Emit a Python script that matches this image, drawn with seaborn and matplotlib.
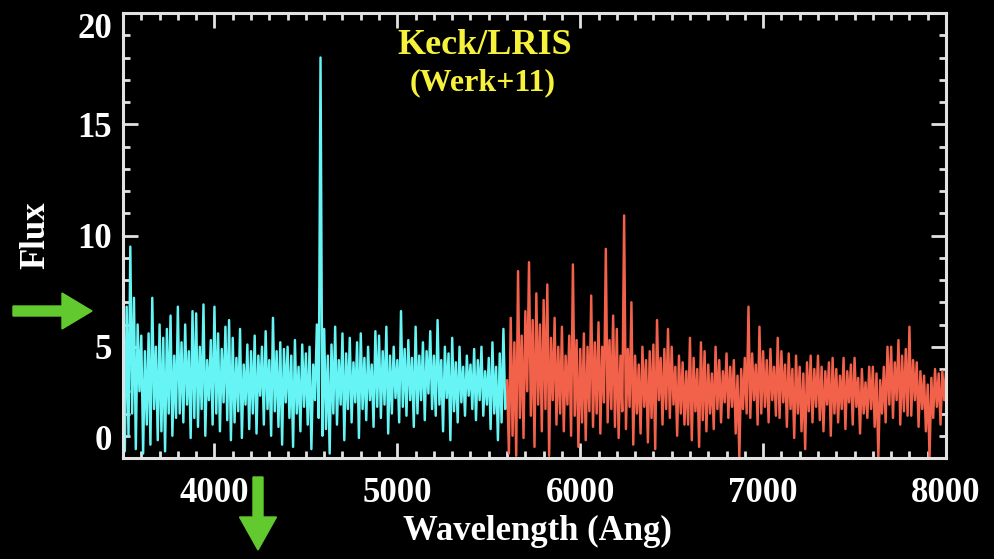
import numpy as np
import pandas as pd
import matplotlib
matplotlib.use("Agg")
import matplotlib.pyplot as plt
from matplotlib.patches import FancyArrow
from matplotlib.transforms import IdentityTransform
from matplotlib.ticker import MultipleLocator
import seaborn as sns

# ---------------- data ----------------
blue_start, blue_step = 3500, 10   # Angstrom
red_start, red_step = 5600, 10

blue_flux = [
    5.2, 0.3, 6.8, 1.0, 9.5, 2.0, 7.2, 0.4, 6.0, 3.0,
    5.5, 0.2, 4.8, 1.5, 5.6, 0.6, 7.2, 2.2, 5.0, 0.8,
    6.0, 1.2, 5.4, 0.3, 5.8, 2.0, 6.4, 1.0, 4.6, 1.8,
    6.8, 2.0, 5.2, 1.6, 6.0, 2.4, 4.8, 0.9, 6.6, 1.8,
    6.5, 1.4, 5.0, 2.2, 6.9, 1.0, 4.4, 2.6, 5.3, 1.5,
    6.8, 2.0, 5.6, 1.2, 4.9, 2.5, 5.9, 1.7, 6.2, 0.8,
    5.4, 1.6, 4.5, 2.1, 5.8, 0.9, 4.2, 2.4, 5.1, 1.3,
    4.8, 2.0, 5.5, 1.1, 4.6, 2.8, 5.0, 1.5, 5.7, 2.2,
    4.4, 1.0, 6.3, 2.1, 4.8, 1.4, 5.2, 0.6, 4.9, 2.5,
    5.0, 1.8, 4.6, 0.5, 5.3, 2.0, 4.1, 1.2, 5.1, 2.3,
    4.7, 1.5, 5.0, 0.4, 4.2, 2.6, 6.0, 1.8, 18.0, 1.0,
    5.8, 1.3, 4.6, 0.2, 5.1, 2.0, 5.9, 1.5, 4.4, 2.4,
    5.6, 0.8, 4.7, 2.2, 5.4, 1.6, 4.3, 2.5, 5.2, 0.9,
    5.6, 2.2, 4.5, 1.7, 5.0, 2.6, 4.2, 1.4, 5.7, 2.3,
    5.5, 1.8, 4.8, 2.4, 5.9, 1.1, 4.6, 2.0, 5.0, 2.7,
    4.4, 1.6, 6.6, 2.3, 4.9, 1.9, 5.3, 2.6, 4.5, 1.4,
    5.9, 2.0, 4.6, 2.6, 5.2, 1.7, 4.8, 2.9, 5.7, 2.2,
    4.6, 1.9, 6.2, 2.4, 4.4, 1.2, 5.0, 2.7, 4.7, 0.8,
    5.4, 2.1, 4.3, 1.6, 5.0, 2.5, 4.1, 1.9, 4.6, 2.8,
    4.2, 2.2, 4.9, 1.7, 4.4, 2.6, 5.0, 1.9, 3.9, 2.4,
    4.5, 1.3, 5.2, 2.0, 4.1, 0.8, 4.7, 1.6, 5.8, 2.2,
    3.0,
]

red_flux = [
    3.5, 0.2, 6.3, 1.0, 5.2, 0.1, 8.4, 1.8, 5.5, 0.9,
    6.6, 3.0, 8.8, 1.9, 6.2, 0.5, 7.4, 2.4, 6.0, 1.2,
    7.1, 2.2, 7.8, 0.1, 5.4, 2.6, 6.3, 1.5, 5.0, 2.0,
    5.9, 1.2, 4.6, 2.4, 5.5, 1.0, 8.7, 1.9, 5.3, 0.5,
    4.9, 1.6, 5.6, 0.8, 5.0, 2.1, 7.3, 1.4, 5.2, 2.0,
    6.1, 1.1, 5.0, 2.5, 9.4, 1.6, 5.3, 2.2, 6.4, 1.4,
    5.8, 0.9, 4.6, 2.1, 10.9, 1.3, 4.9, 2.3, 7.0, 0.6,
    4.6, 2.0, 4.2, 1.1, 5.0, 2.3, 4.4, 0.7, 4.8, 1.8,
    5.1, 0.4, 6.2, 2.6, 4.5, 1.5, 4.9, 2.2, 5.8, 1.8,
    5.0, 2.4, 4.1, 1.0, 4.6, 2.0, 4.3, 1.5, 3.9, 1.5,
    5.4, 0.8, 4.5, 2.1, 4.0, 0.5, 5.2, 1.7, 4.8, 1.2,
    4.2, 2.0, 3.8, 1.3, 5.0, 2.2, 4.4, 1.6, 3.9, 2.5,
    4.7, 1.8, 4.1, 2.3, 4.4, 1.1, 3.7, 0.0, 4.0, 2.2,
    4.5, 2.0, 6.8, 1.8, 4.7, 2.6, 4.2, 1.5, 5.9, 2.0,
    4.8, 2.3, 4.4, 1.6, 4.9, 2.6, 4.1, 1.9, 5.4, 1.8,
    4.8, 2.5, 4.2, 1.4, 4.7, 2.2, 4.0, 0.9, 4.6, 2.0,
    4.1, 1.2, 3.8, 0.4, 4.3, 2.1, 4.6, 1.6, 4.0, 2.3,
    4.6, 1.7, 4.1, 1.2, 3.9, 2.4, 4.3, 1.0, 4.5, 2.0,
    4.0, 1.6, 3.7, 2.2, 4.5, 1.3, 3.9, 2.5, 4.2, 1.5,
    4.5, 2.3, 3.6, 1.1, 4.0, 2.0, 3.4, 1.8, 4.1, 2.2,
    4.1, 1.4, 3.8, 0.0, 3.5, 2.0, 4.1, 1.6, 5.0, 2.4,
    5.0, 1.8, 4.3, 2.6, 5.3, 1.5, 4.6, 2.1, 4.9, 1.9,
    5.9, 1.9, 4.4, 2.6, 4.3, 1.4, 3.9, 2.2, 3.7, 1.2,
    3.3, 0.0, 3.6, 1.8, 4.0, 2.3, 3.8, 1.5, 3.9, 2.6,
    3.9,
]

x_ticks = [4000, 5000, 6000, 7000, 8000]
y_ticks = [0, 5, 10, 15, 20]
title_lines = ["Keck/LRIS", "(Werk+11)"]

blue_df = pd.DataFrame({"wave": blue_start + blue_step * np.arange(len(blue_flux)),
                        "flux": blue_flux})
red_df = pd.DataFrame({"wave": red_start + red_step * np.arange(len(red_flux)),
                       "flux": red_flux})

# ---------------- style ----------------
sns.set_theme(style="dark")
plt.rcParams["font.family"] = ["Liberation Serif", "DejaVu Serif"]
plt.rcParams["font.weight"] = "bold"

W, H = 994, 559
fig = plt.figure(figsize=(W / 100, H / 100), dpi=100, facecolor="black")
ax = fig.add_axes([123 / W, 1 - 458 / H, (946 - 123) / W, (458 - 13) / H])
ax.set_facecolor("black")

cyan = "#66F4F4"
red = "#F2614A"
axis_col = "#E2E2E2"

sns.lineplot(data=blue_df, x="wave", y="flux", ax=ax, color=cyan,
             estimator=None, lw=1.75, sort=False)
sns.lineplot(data=red_df, x="wave", y="flux", ax=ax, color=red,
             estimator=None, lw=1.75, sort=False)

ax.set_xlim(3500, 8000)
ax.set_ylim(0, 20)
ax.grid(False)

ax.set_xticks(x_ticks)
ax.set_yticks(y_ticks)
ax.set_xticklabels([str(t) for t in x_ticks])
ax.set_yticklabels([str(t) for t in y_ticks])
ax.xaxis.set_minor_locator(MultipleLocator(100))
ax.yaxis.set_minor_locator(MultipleLocator(1))

ax.tick_params(which="both", direction="in", top=True, right=True,
               bottom=True, left=True, color=axis_col, width=2.0)
ax.tick_params(which="major", length=11)
ax.tick_params(which="minor", length=5)
ax.tick_params(axis="x", which="major", pad=14, labelsize=25, labelcolor="white")
ax.tick_params(axis="y", which="major", pad=8, labelsize=25, labelcolor="white")

for lab in ax.get_yticklabels():
    if lab.get_text() == "20":
        lab.set_va("top")
    elif lab.get_text() == "0":
        lab.set_va("bottom")

for sp in ax.spines.values():
    sp.set_visible(True)
    sp.set_color(axis_col)
    sp.set_linewidth(2.2)

ax.set_xlabel("Wavelength (Ang)", color="white", fontsize=25, fontweight="bold")
ax.set_ylabel("Flux", color="white", fontsize=25, fontweight="bold")
ax.xaxis.set_label_coords((537 - 123) / (946 - 123), -(531 - 458) / (458 - 13))
ax.yaxis.set_label_coords(-(123 - 36) / (946 - 123), (458 - 235) / (458 - 13))
ax.xaxis.label.set_va("center")
ax.yaxis.label.set_va("center")

fig.text(485 / W, 1 - 45 / H, title_lines[0], color="#F6F23C", fontsize=26,
         fontweight="bold", ha="center", va="center")
fig.text(483 / W, 1 - 83 / H, title_lines[1], color="#F6F23C", fontsize=23,
         fontweight="bold", ha="center", va="center")

green = "#62C92F"
fig.add_artist(FancyArrow(13, H - 311, 79, 0, width=10, head_width=36,
                          head_length=30, length_includes_head=True,
                          color=green, transform=IdentityTransform()))
fig.add_artist(FancyArrow(258, H - 477, 0, -73, width=10, head_width=37,
                          head_length=33, length_includes_head=True,
                          color=green, transform=IdentityTransform()))

fig.savefig("out.png", dpi=100, facecolor="black")
